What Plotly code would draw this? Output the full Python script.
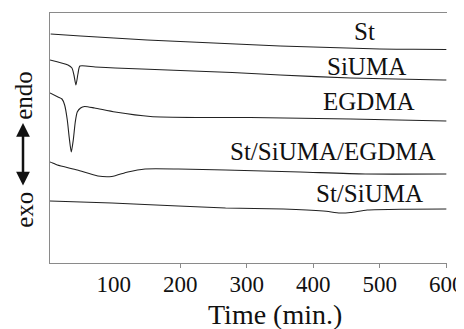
import plotly.graph_objects as go

# DSC curves (heat flow, arbitrary offset units) vs time (min.)
st_t = [5, 50, 100, 150, 200, 250, 300, 350, 400, 450, 500, 550, 600]
st_v = [229, 227, 225, 223, 221.5, 220, 218.5, 217, 216, 215, 214, 213.7, 213.5]

siuma_t = [4, 31, 37, 40, 43, 46, 49, 72, 102, 200, 278, 350, 456, 596, 600]
siuma_v = [203, 198, 195, 188, 178, 189, 197, 196, 195, 192.5, 190.5, 188, 185, 183, 183]

egdma_t = [4, 16, 22, 26, 30, 33, 36, 39, 42, 45, 50, 56, 71, 102, 155, 230, 305, 456, 600]
egdma_v = [170, 166, 164, 158, 143, 125, 111, 123, 141, 151, 155, 156.5, 155, 151, 146.5, 145.5, 145.5, 144, 142]

ternary_t = [4, 8, 15, 45, 76, 97, 121, 147, 197, 268, 380, 478, 600]
ternary_v = [101, 100, 98, 93, 87, 86.5, 91, 94, 94, 93, 91, 89, 89]

binary_t = [4, 97, 197, 268, 355, 415, 440, 456, 481, 540, 600]
binary_v = [62, 60, 57, 55, 54, 52, 50, 50.5, 53, 53.8, 54]

series_names = ["St", "SiUMA", "EGDMA", "St/SiUMA/EGDMA", "St/SiUMA"]
tick_vals = [100, 200, 300, 400, 500, 600]
tick_text = ["100", "200", "300", "400", "500", "600"]
tick_marks = [200, 300, 400, 500, 600]
x_title = "Time (min.)"

FONT = "Liberation Serif, Times New Roman, serif"
LINE = "#222222"
AXIS = "#8a8a8a"

fig = go.Figure()
for t, v, n in [(st_t, st_v, series_names[0]), (siuma_t, siuma_v, series_names[1]),
                (egdma_t, egdma_v, series_names[2]), (ternary_t, ternary_v, series_names[3]),
                (binary_t, binary_v, series_names[4])]:
    fig.add_trace(go.Scatter(x=t, y=v, mode="lines", name=n,
                             line=dict(color=LINE, width=1.1, shape="spline", smoothing=0.6),
                             showlegend=False))

# label positions (paper coords)
label_pos = [(0.793, 0.924), (0.798, 0.786), (0.803, 0.646), (0.714, 0.446), (0.805, 0.278)]
annotations = []
for name, (px, py) in zip(series_names, label_pos):
    annotations.append(dict(text=name, x=px, y=py, xref="paper", yref="paper",
                            showarrow=False, xanchor="center", yanchor="middle",
                            font=dict(family=FONT, size=25, color="#111")))

annotations.append(dict(text="endo", x=-0.066, y=0.672, xref="paper", yref="paper",
                        showarrow=False, textangle=-90, xanchor="center", yanchor="middle",
                        font=dict(family=FONT, size=25, color="#111")))
annotations.append(dict(text="exo", x=-0.066, y=0.212, xref="paper", yref="paper",
                        showarrow=False, textangle=-90, xanchor="center", yanchor="middle",
                        font=dict(family=FONT, size=25, color="#111")))
annotations.append(dict(text="", x=-0.068, y=0.56, xref="paper", yref="paper",
                        ax=0, ay=64, axref="pixel", ayref="pixel",
                        showarrow=True, arrowside="end+start", arrowhead=2, startarrowhead=2,
                        arrowwidth=2.5, arrowsize=1.1, startarrowsize=1.1, arrowcolor="#111"))
annotations.append(dict(text=x_title, x=0.567, y=-0.207, xref="paper", yref="paper",
                        showarrow=False, xanchor="center", yanchor="middle",
                        font=dict(family=FONT, size=28, color="#111")))

fig.update_layout(
    width=464, height=321,
    margin=dict(l=42, r=25, t=5, b=66),
    paper_bgcolor="white", plot_bgcolor="white",
    font=dict(family=FONT, size=23, color="#111"),
    annotations=annotations,
    xaxis=dict(range=[4, 601], showgrid=False, zeroline=False,
               showline=True, linecolor=AXIS, linewidth=1.2, mirror=True,
               tickmode="array", tickvals=tick_vals, ticktext=tick_text, ticks="",
               tickfont=dict(family=FONT, size=23, color="#111"),
               minor=dict(tickmode="array", tickvals=tick_marks, ticks="outside",
                          ticklen=4, tickcolor=AXIS, tickwidth=1, showgrid=False)),
    yaxis=dict(range=[0, 250], showgrid=False, zeroline=False,
               showline=True, linecolor=AXIS, linewidth=1.2, mirror=False,
               showticklabels=False, ticks=""),
)

fig.write_html("out.html")
